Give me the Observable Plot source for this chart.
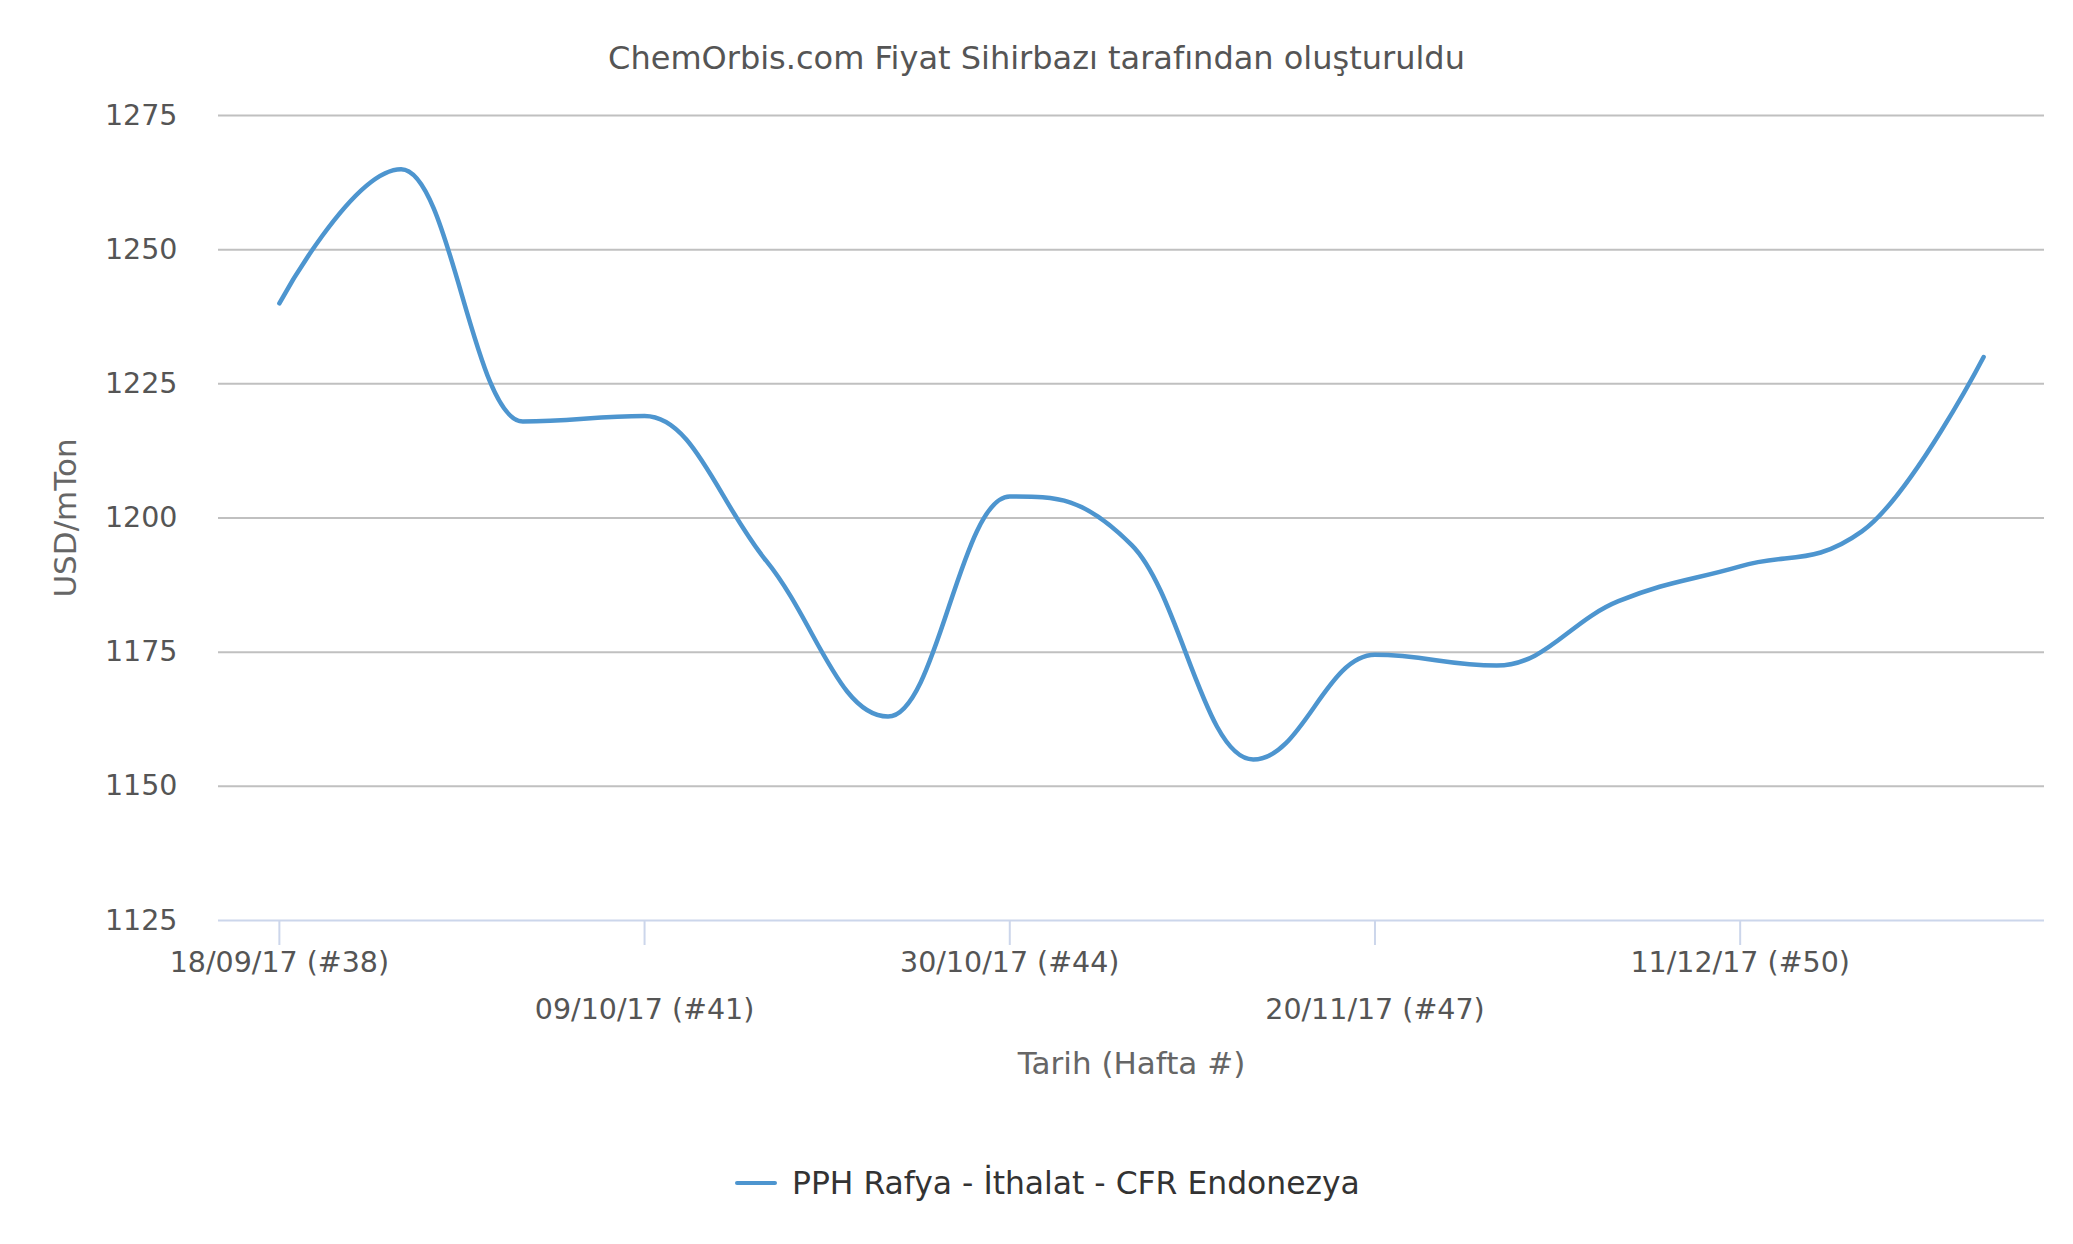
<!DOCTYPE html>
<html>
<head>
<meta charset="utf-8">
<script src="https://cdn.jsdelivr.net/npm/d3@7"></script>
<script src="https://cdn.jsdelivr.net/npm/@observablehq/plot@0.6"></script>
<style>
  html, body { margin: 0; padding: 0; background: #fff; }
  body { width: 2073px; height: 1244px; overflow: hidden; font-family: "DejaVu Sans", sans-serif; }
  #title { height: 44px; padding-top: 36px; line-height: 44px; text-align: center; font-size: 32px; color: #555; white-space: nowrap; }
  #legend { height: 86px; display: flex; align-items: center; padding-left: 735px; font-size: 31.4px; color: #333; white-space: nowrap; }
  #legend .sw { display: inline-block; width: 42px; height: 4.5px; background: #4d95cf; margin-right: 15px; border-radius: 2px; }
</style>
</head>
<body>
<div id="title">ChemOrbis.com Fiyat Sihirbazı tarafından oluşturuldu</div>
<div id="chart"></div>
<div id="legend"><span class="sw"></span><span>PPH Rafya - İthalat - CFR Endonezya</span></div>
<script>
// ---- data ----
const weeks = [38, 39, 40, 41, 42, 43, 44, 45, 46, 47, 48, 49, 50, 51, 52];
const prices = [1240, 1265, 1218, 1219, 1192, 1163, 1204, 1195, 1155, 1174.5, 1172.5, 1184.5, 1191, 1197.5, 1230];
const yTicks = [1125, 1150, 1175, 1200, 1225, 1250, 1275];
const xTickWeeks = [38, 41, 44, 47, 50];
const xTicksRow1 = [38, 44, 50];
const xLabelsRow1 = ["18/09/17 (#38)", "30/10/17 (#44)", "11/12/17 (#50)"];
const xTicksRow2 = [41, 47];
const xLabelsRow2 = ["09/10/17 (#41)", "20/11/17 (#47)"];
const seriesName = "PPH Rafya - İthalat - CFR Endonezya";

const data = weeks.map((w, i) => ({week: w, price: prices[i]}));
const row1 = xTicksRow1.map((w, i) => ({week: w, label: xLabelsRow1[i]}));
const row2 = xTicksRow2.map((w, i) => ({week: w, label: xLabelsRow2[i]}));

// Highcharts-like spline curve
function HCSpline(context) { this._context = context; }
HCSpline.prototype = {
  areaStart() {}, areaEnd() {},
  lineStart() { this._pts = []; },
  point(x, y) { this._pts.push([+x, +y]); },
  lineEnd() {
    const p = this._pts, ctx = this._context, n = p.length;
    if (!n) return;
    const s = 1.5, den = s + 1;
    const L = [], R = [];
    for (let i = 0; i < n; i++) {
      const [x, y] = p[i];
      if (i > 0 && i < n - 1) {
        const [lx, ly] = p[i - 1], [nx, ny] = p[i + 1];
        let lcx = (s * x + lx) / den, lcy = (s * y + ly) / den;
        let rcx = (s * x + nx) / den, rcy = (s * y + ny) / den;
        let corr = 0;
        if (rcx !== lcx) corr = ((rcy - lcy) * (rcx - x)) / (rcx - lcx) + y - rcy;
        lcy += corr; rcy += corr;
        if (lcy > ly && lcy > y) { lcy = Math.max(ly, y); rcy = 2 * y - lcy; }
        else if (lcy < ly && lcy < y) { lcy = Math.min(ly, y); rcy = 2 * y - lcy; }
        if (rcy > ny && rcy > y) { rcy = Math.max(ny, y); lcy = 2 * y - rcy; }
        else if (rcy < ny && rcy < y) { rcy = Math.min(ny, y); lcy = 2 * y - rcy; }
        L[i] = [lcx, lcy]; R[i] = [rcx, rcy];
      } else { L[i] = [x, y]; R[i] = [x, y]; }
    }
    ctx.moveTo(p[0][0], p[0][1]);
    for (let i = 1; i < n; i++) ctx.bezierCurveTo(R[i - 1][0], R[i - 1][1], L[i][0], L[i][1], p[i][0], p[i][1]);
  }
};
const hcSpline = (ctx) => new HCSpline(ctx);

const chart = Plot.plot({
  width: 2073,
  height: 1060,
  marginLeft: 218,
  marginRight: 29,
  marginTop: 35,
  marginBottom: 220,
  style: {fontFamily: "DejaVu Sans, sans-serif", background: "#fff", overflow: "visible"},
  x: {domain: [37.5, 52.5], axis: null},
  y: {domain: [1125, 1275], axis: null},
  marks: [
    Plot.ruleY(yTicks.filter(d => d !== 1125), {stroke: "#c0c0c0", strokeWidth: 2}),
    Plot.ruleY([1125], {stroke: "#ccd6eb", strokeWidth: 2}),
    Plot.axisY({ticks: yTicks, tickSize: 0, tickPadding: 41, fontSize: 28.5, color: "#555", tickFormat: d => String(d), label: null}),
    Plot.axisX({ticks: xTickWeeks, tickSize: 25, tickFormat: () => "", stroke: "#ccd6eb", strokeWidth: 2, strokeOpacity: 1, label: null}),
    Plot.text(row1, {x: "week", text: "label", frameAnchor: "bottom", dy: 42, lineAnchor: "middle", fontSize: 28.5, fill: "#555"}),
    Plot.text(row2, {x: "week", text: "label", frameAnchor: "bottom", dy: 89, lineAnchor: "middle", fontSize: 28.5, fill: "#555"}),
    Plot.text(["Tarih (Hafta #)"], {frameAnchor: "bottom", dy: 144, lineAnchor: "middle", fontSize: 31, fill: "#666"}),
    Plot.text(["USD/mTon"], {frameAnchor: "left", dx: -152, rotate: -90, textAnchor: "middle", lineAnchor: "middle", fontSize: 31, fill: "#666"}),
    Plot.line(data, {x: "week", y: "price", curve: hcSpline, stroke: "#4d95cf", strokeWidth: 4.5, strokeLinecap: "round", strokeLinejoin: "round"})
  ]
});
document.getElementById("chart").appendChild(chart);
</script>
</body>
</html>
